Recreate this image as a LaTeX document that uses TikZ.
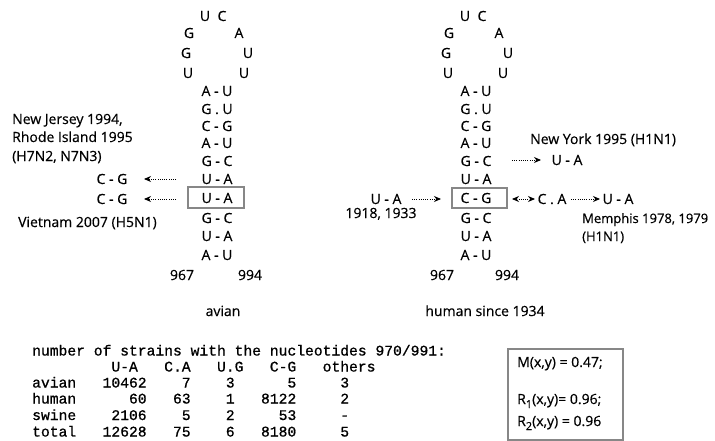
\documentclass[tikz,border=0pt]{standalone}
\usepackage{fontspec}
\setmainfont{Open Sans}[FakeBold=0.5]
\newfontfamily\monofont{Liberation Mono}[FakeBold=0.8]
\usetikzlibrary{arrows.meta}
\definecolor{boxgray}{RGB}{135,135,135}
\newcommand{\sbs}[1]{\raisebox{-4pt}{\fontsize{11}{11}\selectfont #1}}
\tikzset{
  lbl/.style={inner sep=0pt, anchor=base, font=\fontsize{14}{16}\selectfont},
  lblw/.style={lbl, anchor=base west},
  mono/.style={inner sep=0pt, anchor=base west, font=\fontsize{14.67}{16}\selectfont\monofont},
  graybox/.style={draw=boxgray, line width=1.8pt},
  dotarrow/.style={line width=0.9pt, dash pattern=on 0.9pt off 1.3pt, -{Stealth[length=7pt,width=6pt]}},
  dotboth/.style={line width=0.9pt, dash pattern=on 0.9pt off 1.3pt, {Stealth[length=7pt,width=6pt]}-{Stealth[length=7pt,width=6pt]}},
}
\begin{document}
\begin{tikzpicture}[x=1pt,y=-1pt]
\useasboundingbox (0,0) rectangle (715,441);
% ---------- left hairpin (avian), centre x=217 ----------
\node[lbl] (aL1) at (205,21) {U};
\node[lbl] (aR1) at (222,21) {C};
\node[lbl] (aL2) at (189,38) {G};
\node[lbl] (aR2) at (239,38) {A};
\node[lbl] (aL3) at (186,58) {G};
\node[lbl] (aR3) at (248,58) {U};
\node[lbl] (aL4) at (188,78) {U};
\node[lbl] (aR4) at (244,78) {U};
\node[lbl] (ap1) at (217,96) {A - U};
\node[lbl] (ap2) at (217,114) {G . U};
\node[lbl] (ap3) at (217,131) {C - G};
\node[lbl] (ap4) at (217,148) {A - U};
\node[lbl] (ap5) at (217,166) {G - C};
\node[lbl] (ap6) at (217,184) {U - A};
\node[lbl] (ap7) at (217,203) {U - A};
\node[lbl] (ap8) at (217,223) {G - C};
\node[lbl] (ap9) at (217,241) {U - A};
\node[lbl] (ap10) at (217,260) {A - U};
\node[lbl] (a967) at (182,280) {967};
\node[lbl] (a994) at (250,280) {994};
\draw[graybox] (188,187) rectangle (244,208);
% left annotations
\node[lblw] (nj) at (12,124) {New Jersey 1994,};
\node[lblw] (ri) at (12,142) {Rhode Island 1995};
\node[lblw] (h7) at (12,161) {(H7N2, N7N3)};
\node[lbl] (cg1) at (112,184) {C - G};
\node[lbl] (cg2) at (112,204) {C - G};
\node[lblw] (vn) at (18,227) {Vietnam 2007 (H5N1)};
\coordinate (la1) at (176,179);
\coordinate (la2) at (176,199);
\coordinate (lb1) at (144,179);
\coordinate (lb2) at (144,199);
\draw[dotarrow] (la1) -- (lb1);
\draw[dotarrow] (la2) -- (lb2);
\node[lbl] (avian) at (223,316) {avian};
% ---------- right hairpin (human), centre x=476 ----------
\node[lbl] (hL1) at (465,21) {U};
\node[lbl] (hR1) at (482,21) {C};
\node[lbl] (hL2) at (449,38) {G};
\node[lbl] (hR2) at (499,38) {A};
\node[lbl] (hL3) at (446,58) {G};
\node[lbl] (hR3) at (508,58) {U};
\node[lbl] (hL4) at (448,78) {U};
\node[lbl] (hR4) at (503,78) {U};
\node[lbl] (hp1) at (476,96) {A - U};
\node[lbl] (hp2) at (476,114) {G . U};
\node[lbl] (hp3) at (476,131) {C - G};
\node[lbl] (hp4) at (476,148) {A - U};
\node[lbl] (hp5) at (476,166) {G - C};
\node[lbl] (hp6) at (476,184) {U - A};
\node[lbl] (hp7) at (476,203) {C - G};
\node[lbl] (hp8) at (476,223) {G - C};
\node[lbl] (hp9) at (476,241) {U - A};
\node[lbl] (hp10) at (476,260) {A - U};
\node[lbl] (h967) at (442,280) {967};
\node[lbl] (h994) at (507,280) {994};
\draw[graybox] (452,188) rectangle (507,208);
% right annotations
\node[lblw] (ny) at (530,144) {New York 1995 (H1N1)};
\node[lbl] (nyua) at (567,165) {U - A};
\draw[dotarrow] (512,160) -- (541,160);
\node[lbl] (ua18) at (386,204) {U - A};
\node[lbl] (y18) at (381,218) {1918, 1933};
\draw[dotarrow] (412,199) -- (441,199);
\draw[dotboth] (512,199) -- (535,199);
\node[lbl] (ca) at (552,204) {C . A};
\draw[dotarrow] (571,199) -- (600,199);
\node[lbl] (meua) at (618,204) {U - A};
\node[lblw, font=\fontsize{13}{15}\selectfont] (mem) at (582,223) {Memphis 1978, 1979};
\node[lblw, font=\fontsize{13}{15}\selectfont] (memh) at (582,241) {(H1N1)};
\node[lbl] (human) at (485,316) {human since 1934};
% ---------- table ----------
\node[mono] (t0) at (32,355.5) {number~of~strains~with~the~nucleotides~970/991:};
\node[mono] (t1) at (32,371.5) {~~~~~~~~~U-A~~~C.A~~~U.G~~~C-G~~~others};
\node[mono] (t2) at (32,387.5) {avian~~~10462~~~~7~~~~3~~~~~~5~~~~~3};
\node[mono] (t3) at (32,403.5) {human~~~~~~60~~~63~~~~1~~~8122~~~~~2};
\node[mono] (t4) at (32,420) {swine~~~~2106~~~~5~~~~2~~~~~53~~~~~-};
\node[mono] (t5) at (32,436.5) {total~~~12628~~~75~~~~6~~~8180~~~~~5};
% ---------- measures box ----------
\draw[graybox] (508,349) rectangle (623,440);
\node[lblw] (m1) at (517,367) {M(x,y) = 0.47;};
\node[lblw] (m2) at (517,404) {R\sbs{1}(x,y)= 0.96;};
\node[lblw] (m3) at (517,426) {R\sbs{2}(x,y) = 0.96};
\end{tikzpicture}
\end{document}
